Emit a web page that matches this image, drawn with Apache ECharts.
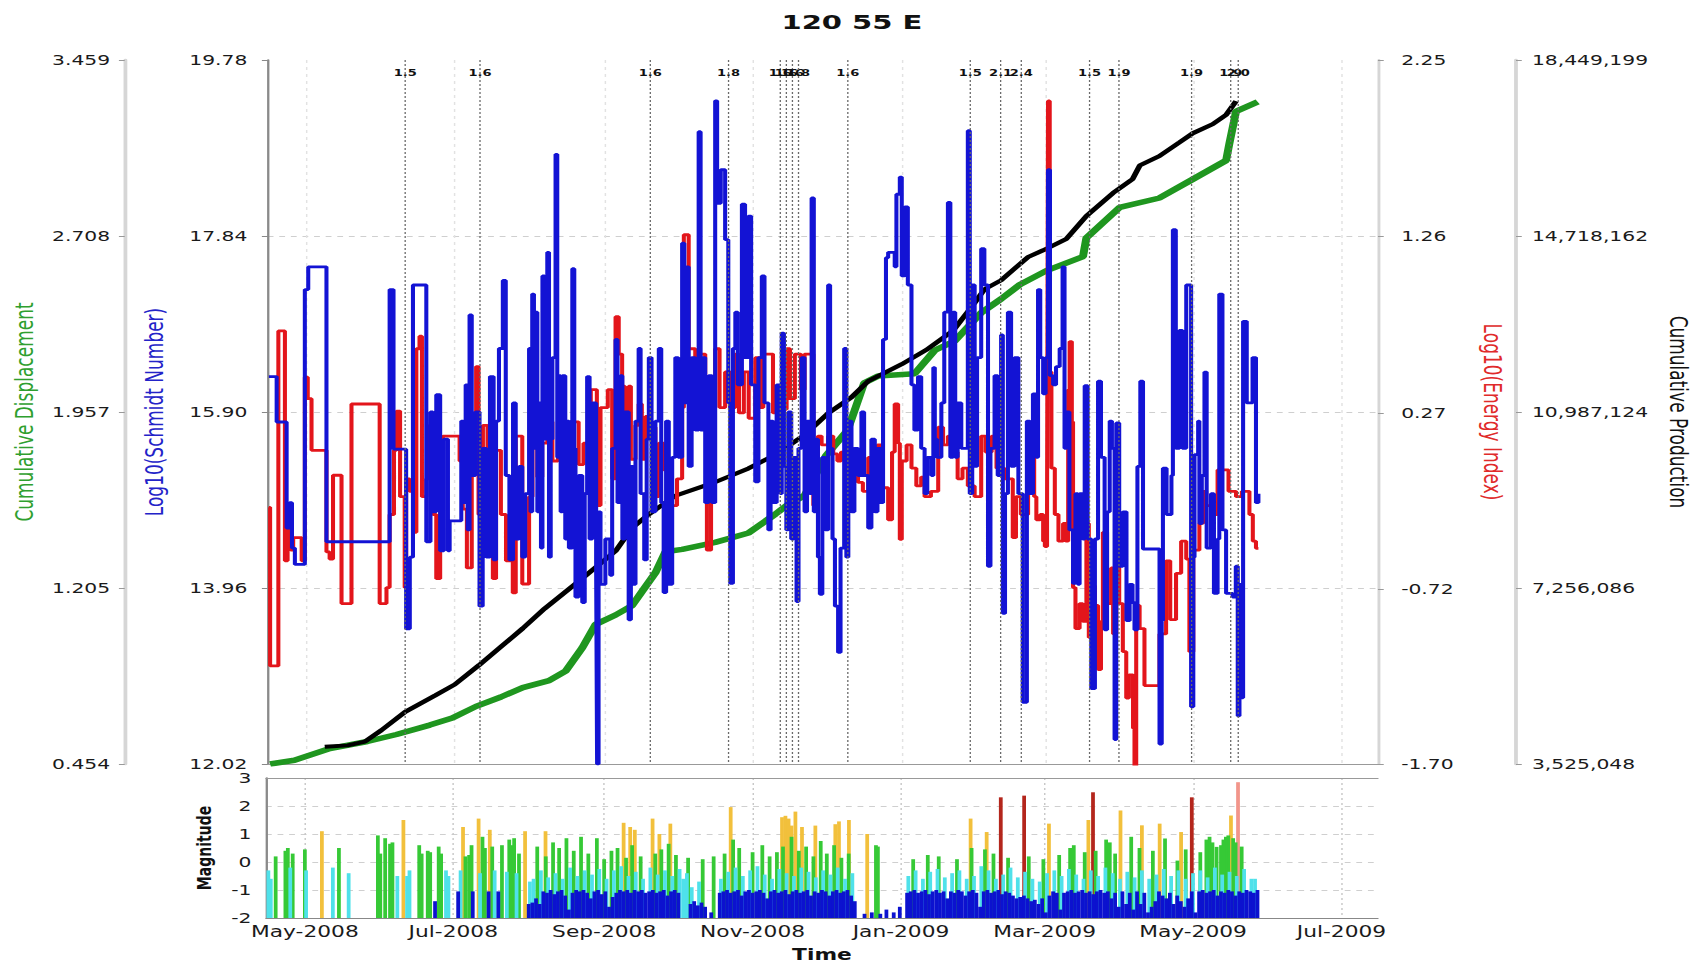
<!DOCTYPE html>
<html>
<head>
<meta charset="utf-8">
<title>120 55 E</title>
<script src="https://cdn.jsdelivr.net/npm/echarts@6/dist/echarts.min.js"></script>
<style>
  html, body { margin: 0; padding: 0; background: #fff; overflow: hidden; }
  #wrap { width: 1704px; height: 965px; overflow: hidden; }
  /* the plot is laid out narrow and widened horizontally */
  #chart { width: 1175px; height: 965px; transform: scaleX(1.45); transform-origin: 0 0; }
</style>
</head>
<body>
<div id="wrap"><div id="chart"></div></div>
<script>
// ---- data: x values are days counted from 1 May 2008 ----
const START = '2008-05-01';
const dayRange = [-16, 441];
const monthTicks = ['2008-05-01', '2008-07-01', '2008-09-01', '2008-11-01',
                    '2009-01-01', '2009-03-01', '2009-05-01', '2009-07-01'];

const schmidtTicks = [12.02, 13.96, 15.90, 17.84, 19.78];
const displacementTicks = [0.454, 1.205, 1.957, 2.708, 3.459];
const energyTicks = [-1.70, -0.72, 0.27, 1.26, 2.25];
const productionTicks = [3525048, 7256086, 10987124, 14718162, 18449199];
const magnitudeRange = [-2, 3];

// Log10(Schmidt Number), stepped
const schmidt = [
  [-15.5,16.29],[-12.3,15.79],[-8.2,14.62],[-7,14.9],[-6,14.4],[-4.8,14.22],[-0.7,17.25],[0.7,17.5],[8.2,14.47],
  [34.2,17.25],[35.8,15.49],[41,13.51],[42.5,14.3],[43.8,17.3],[49.3,14.47],[51,15.9],[52,14.8],[53.4,16.09],
  [55,14.37],[56.5,15.6],[58.2,14.37],[58.9,14.7],[63.7,15.8],[64.5,14.9],[65.5,16.2],[66.3,14.6],[67.1,16.97],
  [68,15.2],[69.5,15.9],[71.2,13.76],[72.5,15.5],[74,14.3],[75.5,16.29],[77,14.27],[78,15.8],[79.2,16.6],
  [80.8,17.35],[82,15.2],[83.5,14.27],[85,16.0],
  [86.1,14.5],[87.5,15.3],[88.8,14.3],[90,15.0],[91.6,16.6],[92.2,14.8],[92.9,17.2],[93.6,15.5],[94.3,17.0],
  [95,14.8],[95.7,16.0],[96.5,14.4],[97.1,17.4],[98,15.6],[99.1,17.66],[99.8,14.3],[100.5,15.6],[101.2,16.5],
  [102.5,18.74],[103.2,15.4],[103.9,16.3],[104.6,14.8],[105.3,16.3],[106.5,14.5],[107,15.8],[108,14.4],
  [109.4,17.48],[110.2,15.5],[110.7,13.86],[112,15.2],[113.5,13.8],[114.5,15.0],[115.5,16.29],[116.5,14.5],
  [117.6,16.0],[119.2,14.2],[119.6,12.02],[120.2,14.8],[121,14.0],[123,14.5],[125,14.1],[125.8,15.5],
  [127.2,16.7],[128,14.9],[129.2,16.3],[130,14.5],[131,15.9],[132.6,13.61],[133.5,15.3],[134.4,14.0],
  [135.4,15.8],[136.7,16.6],[137.5,15.0],[139,14.27],[140,15.6],[140.9,16.5],[142,14.8],[143.6,15.8],
  [145,16.6],[146,14.9],[147,13.91],[148,15.8],[149.1,14.0],[150.5,15.4],[151.8,16.5],[153,15.4],
  [154.6,17.76],[155.5,16.0],[156.5,17.5],[157.3,15.3],[158.5,16.5],[160,15.7],[161.4,18.99],[162.2,15.7],
  [163,16.5],[164.1,14.9],[165.5,16.3],[166.9,14.9],[168.2,19.33],[169,18.2],[170.5,18.57],[172.3,17.8],
  [173.6,16.0],[174.4,14.01],[175.5,16.6],[176.5,17.0],[177.5,16.2],[179.2,18.19],[180.5,16.5],[181.9,18.06],
  [183,16.2],[184.7,15.13],[186,16.5],[187.4,17.4],[188.5,16.0],
  [190.1,14.6],[191,15.8],[192,14.9],[193.5,16.2],[195,15.0],[195.6,16.77],[196.5,15.3],[197.5,14.6],
  [198.3,15.9],[199.5,14.5],[200.5,15.4],[201.7,13.81],[202.5,15.5],[203.8,16.5],[205,14.8],[206,15.8],
  [207.2,15.0],[207.9,18.26],[208.8,14.8],[209.5,15.6],[210.5,14.3],[211.3,13.89],[212.3,15.4],[213.5,14.6],
  [214.7,17.3],[215.5,15.5],[216.5,14.5],[217.5,13.76],[218.8,13.25],[219.8,14.4],[221.3,16.6],[222.2,14.3],
  [223,15.8],[224.3,14.8],[225.5,15.5],[227,15.2],[228.4,15.9],[229.5,15.2],[231.2,14.62],[232.5,15.6],
  [233.9,14.8],[235,15.5],[236.5,14.9],[237.3,16.7],[238.5,17.6],[239.4,17.66],[242.1,17.5],[242.8,18.3],
  [244.2,18.49],[245,17.4],[246.2,18.16],[247.5,17.3],[249,16.2],[250.2,15.7],[251.7,16.29],[253,15.5],
  [254.4,15.0],[255.5,15.4],[257.2,15.2],[258,16.39],[258.6,15.6],[259.5,15.4],[261.3,16.0],[262.5,17.0],
  [264,18.21],[265,15.4],[266.1,17.0],[267,15.4],[268,16.0],[269.5,15.5],[272.2,19.0],[273,15.0],[274,17.3],
  [275,15.3],[276,16.5],[277.7,17.7],[279,17.3],[280.5,14.2],[281.5,15.5],[283.2,16.3],[284.5,15.2],
  [285.9,16.75],[286.6,13.68],[287.5,15.0],[288.7,17.0],[290,15.3],[291.4,16.5],[293,15.0],[294.8,12.7],
  [296.5,15.8],[297.7,15.0],[299,16.1],[300.3,15.4],[301.1,17.25],[302,16.5],[303.2,16.1],[304.2,16.5],
  [305.2,18.57],[306,16.3],[307.3,16.2],[308.5,16.4],[310,16.6],[311.2,17.5],[312,15.5],[312.8,15.9],
  [314,14.6],[315.5,14.01],[316.5,15.0],[317.5,14.0],[318.2,15.0],[319.5,14.5],[320.3,16.19],[321.5,14.5],
  [323,12.85],[324.5,14.5],[325.8,16.24],[327,15.4],[328.5,13.5],[329.5,14.8],[330.6,15.8],[331.5,15.5],
  [332.6,12.29],[333.3,15.78],[334.5,14.2],[336,14.8],[337.5,13.6],[338.8,14.0],[340,13.8],[340.8,13.5],
  [342,15.3],[343.2,16.24],[344.3,14.39],[351.1,12.24],[352,13.6],[352.5,15.28],[354,14.77],[356,15.2],
  [356.6,17.91],[357.8,15.5],[359.3,16.8],[360.5,15.5],[362.1,17.3],[364.1,12.65],[365,14.3],[365.5,15.43],
  [367,15.8],[367.5,14.67],[368.5,15.2],[369.6,16.34],[370.5,14.4],[372.3,15.0],[373.5,13.9],[375,14.5],
  [375.7,17.2],[377,14.6],[378.5,13.9],[381.2,13.86],[382.5,14.2],[383.3,12.55],[384,14.0],[384.6,12.75],
  [385.5,16.9],[387,16.0],[389.4,16.5],[390.8,14.9],[391.8,15.0]
];

// Log10(Energy Index), stepped
const energy = [
  [-15.5,-0.26],[-15,-1.15],[-11.6,0.73],[-8.9,-0.56],[-7.8,-0.3],[-6.5,-0.5],[-5.5,-0.43],[-2,-0.56],
  [-0.7,0.47],[0.5,0.35],[2.05,0.06],[8.2,-0.51],[9.5,-0.55],[10.9,-0.08],[14.4,-0.8],[18.5,0.32],
  [30.1,-0.8],[32.9,-0.71],[34.2,-0.3],[36,0.06],[37,0.28],[38.5,-0.2],[40.4,-0.71],[41,-0.1],[42.4,-0.17],
  [44,-0.4],[45.2,0.63],[46.5,0.7],[47.5,-0.2],[49.3,-0.1],[50.5,0.2],[52,-0.3],[53.4,-0.66],[55,-0.2],
  [56.1,0.14],[63,0.0],[64.3,-0.27],[66,-0.6],[68,0.2],[69.8,0.53],[70.8,-0.3],[72.6,0.2],[74.5,0.04],
  [76.7,-0.66],[78,0.06],[80,-0.3],[82.1,-0.56],[84,-0.2],[84.9,-0.74],
  [86.1,0.14],[88.8,-0.69],[91.6,-0.2],[93,0.32],[95,-0.09],[97,0.1],[99.1,0.22],[101.2,0.0],[103.5,0.22],
  [106.5,0.0],[108,0.04],[110,0.22],[112,-0.02],[114,0.1],[117,0.4],[119.5,-0.25],[121,0.3],[124,0.4],
  [125.8,-0.1],[127.2,0.81],[128.5,0.6],[129.9,0.42],[131,0.2],[132.6,0.42],[133.5,0.01],[135.4,0.2],
  [136.7,0.32],[138,0.01],[139.5,0.25],[141.5,0.19],[143.6,-0.2],[145,0.1],[147,-0.05],[148.5,-0.2],
  [150.5,-0.25],[152.5,-0.1],[154.6,0.3],[155.3,1.27],[157.3,0.63],[160,0.53],[162,0.6],[164.1,0.2],
  [164.8,-0.5],[166.5,0.3],[168.2,0.63],[170,0.3],[172.3,0.5],[174.4,0.3],[176.5,0.6],[178,0.27],[180,0.5],
  [182,0.24],[184.7,0.58],[186.5,0.3],[188,0.6],
  [190.1,0.6],[192,0.27],[194.3,0.29],[197.6,0.63],[199,0.35],[201,0.6],[203.5,0.4],[205,0.6],[208.6,-0.25],
  [210.5,0.14],[212,0.09],[214.7,0.14],[216.8,0.04],[218.5,0.0],[220,0.05],[223,-0.05],[225,-0.09],
  [227,-0.12],[229,-0.17],[231.2,0.02],[233,-0.04],[235,0.09],[236.6,-0.15],[239.4,-0.33],[241,0.05],
  [242.1,0.32],[243.5,0.1],[244.2,-0.44],[245,0.0],[247,0.09],[249,-0.04],[251,-0.14],[253,-0.09],
  [254.4,-0.2],[257,-0.17],[260,0.19],[262,0.09],[264,0.14],[266.1,0.05],[268,-0.1],[270,-0.04],
  [272.2,-0.14],[275,-0.2],[277.7,0.14],[279.5,0.05],[282,0.14],[284,-0.04],[287.3,-0.1],[290.7,-0.43],
  [292,-0.2],[294,-0.3],
  [297,0.09],[298.4,0.14],[299.5,-0.2],[300.4,-0.33],[302,-0.3],[303.2,-0.45],[303.9,-0.48],[304.8,-0.3],
  [305.2,2.02],[305.9,0.5],[306.6,-0.04],[308,-0.3],[309.5,-0.45],[311.4,-0.35],[312.5,-0.45],[313.5,0.4],
  [314.1,0.67],[315,0.22],[315.5,-0.71],[316.5,-0.94],[318.2,-0.8],[319.5,-0.9],[321,-0.35],[322,-0.99],
  [323,-0.7],[324.5,-0.81],[325.8,-1.17],[327,-0.9],[327.8,-0.4],[329.5,-0.8],[331.2,-0.6],[332,-0.97],
  [333.3,-0.5],[334.5,-0.8],[336,-1.07],[337.4,-1.33],[338.5,-1.2],[340.2,-1.5],[340.8,-1.74],[341.5,-0.81],
  [342.9,-0.94],[344.9,-1.26],[351.1,-0.97],[353.8,-0.56],[355.5,-0.89],[357.9,-0.63],[360,-0.45],
  [362.1,-0.55],[363.4,-1.07],[365,-0.5],[367.5,-0.35],[369,-0.17],[370.3,-0.25],[373,-0.3],[375,-0.05],
  [379.5,-0.17],[382.6,-0.2],[385,-0.17],[388.1,-0.3],[389.5,-0.45],[390.8,-0.49],[391.8,-0.49]
];

// Cumulative Displacement
const displacement = [
  [-15,0.454],[-5,0.47],[9.6,0.52],[25,0.55],[37,0.58],[50.7,0.62],[60,0.65],[69.8,0.70],[80,0.74],[89,0.78],
  [99.8,0.81],[106.6,0.85],[113.5,0.95],[119,1.05],[127.2,1.09],[134,1.13],[138.1,1.19],[143.6,1.27],
  [147.7,1.36],[154.6,1.37],[168.2,1.40],[181.9,1.44],[192.9,1.52],[198,1.56],[205,1.60],[213.8,1.77],
  [222.8,1.88],[229.5,2.08],[235.3,2.11],[250.3,2.12],[258.6,2.22],[266.8,2.26],[277.7,2.38],[286,2.44],
  [293.6,2.50],[304.6,2.56],[319.6,2.62],[321,2.70],[334.7,2.83],[351.1,2.87],[364.8,2.95],[378.5,3.03],
  [379.8,3.10],[382.6,3.24],[391.5,3.28]
];

// Cumulative Production
const production = [
  [7.5,3890000],[17,3920000],[24,4000000],[30.8,4240000],[40.6,4630000],[53,4980000],[61,5210000],
  [71,5620000],[80,6010000],[89,6400000],[98,6820000],[113.5,7460000],[127.2,8040000],[134,8530000],
  [140.9,8820000],[151.8,9210000],[168.2,9500000],[181.9,9790000],[192.9,10080000],[205,10500000],
  [214.7,10960000],[224.3,11300000],[231.2,11640000],[245,12000000],[255,12300000],[266.1,12710000],
  [275,13300000],[279.1,13590000],[285.9,13780000],[296.9,14270000],[303.2,14415000],[312.8,14658000],
  [321,15144000],[332,15631000],[340,15923000],[343,16215000],[351,16410000],[359.3,16702000],
  [364.8,16896000],[373,17091000],[378.5,17285000],[382.6,17577000]
];

// labelled event lines across the top panel: [day, magnitude]
const markers = [
  [40.6,1.5],[71.4,1.6],[141.5,1.6],[173.7,1.8],[195,1.6],[197.5,1.6],[200,1.6],[202.5,1.8],
  [222.8,1.6],[273.2,1.5],[285.7,2.1],[294.2,2.4],[322.3,1.5],[334.4,1.9],[364.3,1.9],[380.4,1.9],[383.5,2.0]
];

// events: [day, magnitude]
const quakes = [
  [-15,-0.3],[-14,-0.6],[-12,0.2],[-8,0.4],[-7,0.5],[-6,-0.2],[-5,0.3],[0,0.45],[0.5,-0.3],[7,1.1],
  [11.5,-0.2],[14,0.5],[18,-0.4],
  [30,0.95],[31,0.3],[33,0.85],[35,0.65],[36,0.7],[38,-0.5],[40.5,1.5],[42,-0.5],[43,-0.3],[47,0.6],[48,0.3],
  [50.5,0.4],[51.5,0.35],[53.5,-1.4],[55,0.55],[56,0.3],[58,-0.3],[59,-0.5],
  [63,-1.05],[64,-0.3],[65,1.25],[66,0.2],[67.5,0.25],[68.5,0.6],[69,-1.05],[71.4,1.55],[72,-0.4],[73,0.9],
  [74,0.5],[75.5,-1.05],[76,1.15],[77,0.55],[78,-0.3],[79.5,-1.05],[81,0.6],[83,-0.35],[84,0.8],[85,0.6],
  [86,0.85],[87,-0.4],[88,0.3],[90.5,1.1],
  [92,-1.5],[93.5,-1.45],[95,-1.3],[96.5,-1.5],[98,-1.05],[99.5,-1.1],[101,-1.0],[102.5,-1.15],[104,-1.05],
  [105.5,-1.0],[107,-1.2],[108.5,-1.7],[110,-1.1],[111.5,-1.0],[113,-1.05],[114.5,-1.0],[116,-1.1],
  [117.5,-1.3],[119,-1.05],[120.5,-1.0],[122,-1.15],[123.5,-1.05],[125,-1.6],[126.5,-1.25],[128,-1.1],
  [129.5,-1.0],[131,-1.05],[132.5,-1.0],[134,-1.1],[135.5,-1.0],[137,-1.05],[138.5,-1.0],[140,-1.1],
  [141.5,-1.05],[143,-1.0],[144.5,-1.1],[146,-1.05],[147.5,-1.0],[149,-1.2],[150.5,-1.05],[152,-1.0],
  [153.5,-1.1],[155.5,-0.6],[157,-0.4],[158.5,-1.5],[160,-1.4],[161.5,-1.55],[163,-1.45],[164.5,-1.6],
  [167,-1.8],[170.5,-1.1],[172,-1.05],[173.5,-1.0],[175,-1.1],[176.5,-1.05],[178,-1.0],[179.5,-1.2],
  [181,-1.05],[182.5,-1.0],[184,-1.1],[185.5,-1.05],[187,-1.0],[188.5,-1.1],[190,-1.3],[191.5,-1.05],
  [193,-1.0],[194.5,-1.1],[196,-1.05],[197.5,-1.0],[199,-1.15],[200.5,-1.05],[202,-1.0],[203.5,-1.1],
  [205,-1.05],[206.5,-1.0],[208,-1.2],[209.5,-1.05],[211,-1.1],[212.5,-1.0],[214,-1.05],[215.5,-1.2],
  [217,-1.05],[218.5,-1.0],[220,-1.1],[221.5,-1.05],[223,-1.0],[224.5,-1.2],[226,-1.4],
  [230,-1.85],[233,-1.8],[236.5,-1.85],[239,-1.7],[242,-1.8],[244.5,-1.6],
  [247.5,-1.1],[249,-1.05],[250.5,-1.0],[252,-1.1],[253.5,-1.05],[255,-1.0],[256.5,-1.15],[258,-1.05],
  [259.5,-1.0],[261,-1.1],[262.5,-1.05],[264,-1.3],[265.5,-1.05],[267,-1.1],[268.5,-1.0],[270,-1.05],
  [271.5,-1.2],[273,-1.05],[274.5,-1.0],[276,-1.1],[277.5,-1.6],[279,-1.05],[280.5,-1.0],[282,-1.1],
  [283.5,-1.05],[285,-1.0],[286.5,-1.15],[288,-1.05],[289.5,-1.1],[291,-1.2],[292.5,-1.3],[294,-1.25],
  [295.5,-1.2],[297,-1.3],[298.5,-1.4],[300,-1.35],[301.5,-1.5],[303,-1.3],[304.5,-1.8],[306,-1.2],
  [307.5,-1.05],[309,-1.1],[310.5,-1.7],[312,-1.1],[313.5,-1.05],[315,-1.0],[316.5,-1.1],[318,-1.05],
  [319.5,-1.0],[321,-1.1],[322.5,-1.05],[324,-1.15],[325.5,-1.05],[327,-1.0],[328.5,-1.1],[330,-1.05],
  [331.5,-1.3],[333,-1.1],[334.5,-1.6],[336,-1.05],[337.5,-1.5],[339,-1.1],[340.5,-1.7],[342,-1.05],
  [343.5,-1.5],[345,-1.1],[346.5,-1.8],[348,-1.6],[349.5,-1.4],[351,-1.05],[352.5,-1.2],[354,-1.3],
  [355.5,-1.1],[357,-1.5],[358.5,-1.2],[360,-1.4],[361.5,-1.6],[363,-1.3],[364.5,-1.05],[366,-1.8],
  [367.5,-1.05],[369,-1.0],[370.5,-1.1],[372,-1.05],[373.5,-1.0],[375,-1.2],[376.5,-1.05],[378,-1.1],
  [379.5,-1.0],[381,-1.05],[382.5,-1.2],[384,-1.05],[385.5,-1.1],[387,-1.0],[388.5,-1.05],[390,-1.1],
  [391.5,-1.0],
  [92.5,-0.7],[94,-0.6],[97,-0.3],[100,-0.55],[103,-0.4],[106,-0.6],[109,-0.2],[112,-0.5],[115,-0.3],
  [118,-0.45],[121,-0.25],[124,-0.6],[127,-0.3],[130,-0.15],[133,-0.5],[136,-0.35],[139,-0.6],[142,-0.2],
  [145,-0.45],[148,-0.3],[151,-0.5],[154,-0.25],[159,-0.9],[162,-0.7],[171,-0.6],[174,-0.35],[177,-0.2],
  [180,-0.5],[183,-0.3],[186,-0.15],[189,-0.45],[192,-0.6],[195,-0.25],[198,-0.4],[201,-0.5],[204,-0.2],
  [207,-0.35],[210,-0.55],[213,-0.3],[216,-0.45],[219,-0.2],[222,-0.6],[225,-0.4],
  [248,-0.5],[251,-0.3],[254,-0.6],[257,-0.35],[260,-0.25],[263,-0.55],[266,-0.4],[269,-0.3],[272,-0.6],
  [275,-0.5],[278,-0.15],[281,-0.3],[284,-0.6],[287,-0.45],[290,-0.2],[293,-0.55],[296,-0.35],[299,-0.6],
  [302,-0.7],[305,-0.4],[308,-0.3],[311,-0.5],[314,-0.25],[317,-0.45],[320,-0.6],[323,-0.3],[326,-0.5],
  [329,-0.2],[332,-0.4],[335,-0.6],[338,-0.35],[341,-0.55],[344,-0.3],[347,-0.6],[350,-0.45],[353,-0.25],
  [356,-0.5],[359,-0.3],[362,-0.6],[365,-0.4],[368,-0.3],[371,-0.55],[374,-0.2],[377,-0.45],[380,-0.35],
  [383,-0.5],[386,-0.25],[389,-0.6],[390.5,-0.6],
  [95.5,0.55],[99,0.2],[102,0.7],[104.5,0.5],[107.5,0.85],[110.5,0.4],[113.5,0.9],[116.5,0.3],[120,0.85],
  [123,0.1],[126,0.4],[128.5,0.5],[132,0.15],[134.5,0.6],[138,0.2],[144,0.3],[146.5,0.45],[149.5,0.65],
  [152.5,0.25],[157.5,0.15],[163.5,0.1],[168,0.2],[172.5,0.3],[176,0.8],[178.5,0.5],[184,0.35],[188,0.6],
  [191,0.2],[194,0.35],[196.5,0.55],[200,0.9],[203,0.4],[206,0.55],[209,0.2],[212,0.75],[214.5,0.3],
  [217.5,0.6],[220.5,0.15],[223.5,0.3],[234.7,0.6],[235.5,0.55],
  [250,0.1],[256,0.25],[260.5,0.2],[268,0.1],[274,0.5],[279.5,0.45],[283,0.3],[289,0.15],[297.5,0.2],
  [303.5,0.1],[310,0.25],[314.5,0.5],[316,0.6],[320.5,0.35],[325,0.4],[329.3,0.8],[330.8,0.7],[333,0.3],
  [339.6,0.9],[343,0.5],[348.5,0.4],[353.5,0.84],[358.6,0.05],[362,0.45],[368,0.35],[370.5,0.8],
  [371.8,0.9],[373,0.7],[374.7,0.54],[376.5,0.6],[377.5,0.8],[378.5,0.9],[379.5,0.95],[381.5,0.85],
  [382.5,0.7],[385,0.55],
  [98.9,1.1],[131,1.4],[133.7,1.25],[135.6,1.15],[142.9,1.55],[145.7,1.0],[150.2,1.37],[175,1.96],
  [196.1,1.6],[197.5,1.65],[198.8,1.55],[200,1.3],[201.6,1.8],[204.3,1.25],[209.8,1.3],[218,1.35],
  [219.5,1.45],[223.6,1.5],[231.1,1.0],[273.6,1.55],[280.2,1.07],[305.8,1.37],[322,1.5],[335.2,1.84],
  [344,1.31],[351.3,1.37],[360.1,1.07],[380.6,1.66],
  [286,2.31],[295.6,2.37],[323.9,2.49],[364.5,2.31],[383.5,2.85]
];

// ---- helpers ----
const DAY_MS = 86400000;
const T0 = Date.parse(START);
const toTime = d => T0 + d * DAY_MS;
const withTime = arr => arr.map(p => [toTime(p[0]), p[1]]);
const tickTimes = monthTicks.map(s => Date.parse(s));
const MONTHS = ['Jan','Feb','Mar','Apr','May','Jun','Jul','Aug','Sep','Oct','Nov','Dec'];
const monthLabel = v => { const dt = new Date(v); return MONTHS[dt.getUTCMonth()] + '-' + dt.getUTCFullYear(); };
const withCommas = v => String(Math.round(v)).replace(/\B(?=(\d{3})+(?!\d))/g, ',');

function magColor(m) {
  if (m < -0.95) return '#0c12cf';
  if (m < 0) return '#4fe1ea';
  if (m < 1) return '#36c936';
  if (m < 2) return '#f2c03c';
  if (m < 2.6) return '#b4261c';
  return '#f2958a';
}

const FONT = 'DejaVu Sans';
const TICK_FONT = { fontFamily: FONT, fontSize: 14, color: '#1a1a1a' };
const NAME_FONT = { fontFamily: FONT, fontSize: 17 };
const innerSplit = n => ({
  show: true,
  lineStyle: { type: [4, 4], width: 1,
    color: Array.from({ length: n }, (_, i) => (i === 0 || i === n - 1) ? 'rgba(0,0,0,0)' : '#cfcfcf') }
});

const chart = echarts.init(document.getElementById('chart'), null, { renderer: 'svg' });

// tallest events first so shorter ones sit in front
const quakeData = withTime(quakes).sort((a, b) => b[1] - a[1]);

const option = {
  animation: false,
  backgroundColor: '#fff',
  title: {
    text: '120 55 E', left: 'center', top: 7,
    textStyle: { fontFamily: FONT, fontSize: 20, fontWeight: 'bold', color: '#111' }
  },
  grid: [
    { left: 183.4, right: 224.7, top: 60, bottom: 201 },
    { left: 183.4, right: 224.7, top: 778, bottom: 47 }
  ],
  xAxis: [
    {
      gridIndex: 0, type: 'value', min: toTime(dayRange[0]), max: toTime(dayRange[1]),
      axisLine: { show: true, onZero: false, lineStyle: { color: '#999', width: 1 } },
      axisTick: { show: false, customValues: tickTimes },
      axisLabel: { show: false },
      splitLine: { show: true, lineStyle: { color: '#e2e2e2', type: [3, 4] } }
    },
    {
      gridIndex: 1, type: 'value', min: toTime(dayRange[0]), max: toTime(dayRange[1]),
      axisLine: { show: true, onZero: false, lineStyle: { color: '#888', width: 1 } },
      axisTick: { show: false, customValues: tickTimes },
      axisLabel: { customValues: tickTimes, formatter: monthLabel, margin: 6,
                   fontFamily: FONT, fontSize: 15, color: '#1a1a1a' },
      splitLine: { show: true, lineStyle: { color: '#c8c8c8', type: [2, 3] } },
      name: 'Time', nameLocation: 'middle', nameGap: 29,
      nameTextStyle: { fontFamily: FONT, fontSize: 15, fontWeight: 'bold', color: '#111' }
    },
    {
      gridIndex: 1, type: 'value', position: 'top', min: toTime(dayRange[0]), max: toTime(dayRange[1]),
      axisLine: { show: true, onZero: false, lineStyle: { color: '#999', width: 1 } },
      axisTick: { show: false }, axisLabel: { show: false }, splitLine: { show: false }
    }
  ],
  yAxis: [
    {
      gridIndex: 0, type: 'value', position: 'left', offset: 0,
      min: schmidtTicks[0], max: schmidtTicks[schmidtTicks.length - 1],
      axisLine: { show: true, onZero: false, lineStyle: { color: '#8a8a8a', width: 1.6 } },
      axisTick: { show: true, length: 4, customValues: schmidtTicks, lineStyle: { color: '#888' } },
      axisLabel: Object.assign({ customValues: schmidtTicks, formatter: v => v.toFixed(2), margin: 14 }, TICK_FONT),
      splitLine: innerSplit(schmidtTicks.length),
      name: 'Log10(Schmidt Number)', nameLocation: 'middle', nameGap: 70, nameRotate: 90,
      nameTextStyle: Object.assign({ color: '#2323c8' }, NAME_FONT)
    },
    {
      gridIndex: 0, type: 'value', position: 'left', offset: 98.6,
      min: displacementTicks[0], max: displacementTicks[displacementTicks.length - 1],
      axisLine: { show: true, onZero: false, lineStyle: { color: '#d6d6d6', width: 2.6 } },
      axisTick: { show: true, length: 4, customValues: displacementTicks, lineStyle: { color: '#999' } },
      axisLabel: Object.assign({ customValues: displacementTicks, formatter: v => v.toFixed(3), margin: 10 }, TICK_FONT),
      splitLine: { show: false },
      name: 'Cumulative Displacement', nameLocation: 'middle', nameGap: 61, nameRotate: 90,
      nameTextStyle: Object.assign({ color: '#2f9f2f' }, NAME_FONT)
    },
    {
      gridIndex: 0, type: 'value', position: 'right', offset: 0,
      min: energyTicks[0], max: energyTicks[energyTicks.length - 1],
      axisLine: { show: true, onZero: false, lineStyle: { color: '#d6d6d6', width: 2 } },
      axisTick: { show: true, length: 4, customValues: energyTicks, lineStyle: { color: '#999' } },
      axisLabel: Object.assign({ customValues: energyTicks, formatter: v => v.toFixed(2), margin: 16 }, TICK_FONT),
      splitLine: { show: false },
      name: 'Log10(Energy Index)', nameLocation: 'middle', nameGap: 71, nameRotate: -90,
      nameTextStyle: Object.assign({ color: '#e02a2a' }, NAME_FONT)
    },
    {
      gridIndex: 0, type: 'value', position: 'right', offset: 95.2,
      min: productionTicks[0], max: productionTicks[productionTicks.length - 1],
      axisLine: { show: true, onZero: false, lineStyle: { color: '#d6d6d6', width: 2.6 } },
      axisTick: { show: true, length: 4, customValues: productionTicks, lineStyle: { color: '#999' } },
      axisLabel: Object.assign({ customValues: productionTicks, formatter: withCommas, margin: 11 }, TICK_FONT),
      splitLine: { show: false },
      name: 'Cumulative Production', nameLocation: 'middle', nameGap: 104, nameRotate: -90,
      nameTextStyle: Object.assign({ color: '#111' }, NAME_FONT)
    },
    {
      gridIndex: 1, type: 'value', position: 'left',
      min: magnitudeRange[0], max: magnitudeRange[1], interval: 1,
      axisLine: { show: true, onZero: false, lineStyle: { color: '#8a8a8a', width: 1.6 } },
      axisTick: { show: false },
      axisLabel: Object.assign({ margin: 10 }, TICK_FONT),
      splitLine: innerSplit(6),
      name: 'Magnitude', nameLocation: 'middle', nameGap: 36, nameRotate: 90,
      nameTextStyle: { fontFamily: FONT, fontSize: 14, fontWeight: 'bold', color: '#111' }
    }
  ],
  series: [
    {
      name: 'Cumulative Displacement', type: 'line', xAxisIndex: 0, yAxisIndex: 1,
      data: withTime(displacement), showSymbol: false, symbol: 'none', z: 2,
      lineStyle: { color: '#1f961f', width: 5.5 }
    },
    {
      name: 'Cumulative Production', type: 'line', xAxisIndex: 0, yAxisIndex: 3,
      data: withTime(production), showSymbol: false, symbol: 'none', z: 3,
      lineStyle: { color: '#000', width: 4 }
    },
    {
      name: 'Log10(Energy Index)', type: 'line', step: 'end', xAxisIndex: 0, yAxisIndex: 2,
      data: withTime(energy), showSymbol: false, symbol: 'none', z: 4,
      lineStyle: { color: '#e3151b', width: 2.8 }
    },
    {
      name: 'Log10(Schmidt Number)', type: 'line', step: 'end', xAxisIndex: 0, yAxisIndex: 0,
      data: withTime(schmidt), showSymbol: false, symbol: 'none', z: 5,
      lineStyle: { color: '#1313d4', width: 2.8 }
    },
    {
      name: 'Events', type: 'custom', xAxisIndex: 0, yAxisIndex: 0, z: 6,
      data: withTime(markers), encode: { x: 0, y: 1 },
      renderItem: function (params, api) {
        const cs = params.coordSys;
        const x = api.coord([api.value(0), schmidtTicks[2]])[0];
        const label = api.value(1).toFixed(1);
        return {
          type: 'group',
          children: [
            { type: 'line', shape: { x1: x, y1: cs.y, x2: x, y2: cs.y + cs.height },
              style: { stroke: '#6a6a6a', lineWidth: 0.9, lineDash: [2, 2] } },
            { type: 'text', x: x, y: cs.y + 13,
              style: { text: label, fill: '#111', font: 'bold 9px "DejaVu Sans"',
                       align: 'center', verticalAlign: 'middle',
                       textAlign: 'center', textVerticalAlign: 'middle' } }
          ]
        };
      }
    },
    {
      name: 'Magnitude', type: 'custom', xAxisIndex: 1, yAxisIndex: 4, z: 3,
      data: quakeData, encode: { x: 0, y: 1 },
      renderItem: function (params, api) {
        const t = api.value(0), m = api.value(1);
        const base = api.coord([t, magnitudeRange[0]]);
        const top = api.coord([t, m]);
        const w = 2.6;
        return {
          type: 'rect',
          shape: { x: base[0] - w / 2, y: top[1], width: w, height: base[1] - top[1] },
          style: { fill: magColor(m) }
        };
      }
    }
  ]
};

chart.setOption(option);
</script>
</body>
</html>
